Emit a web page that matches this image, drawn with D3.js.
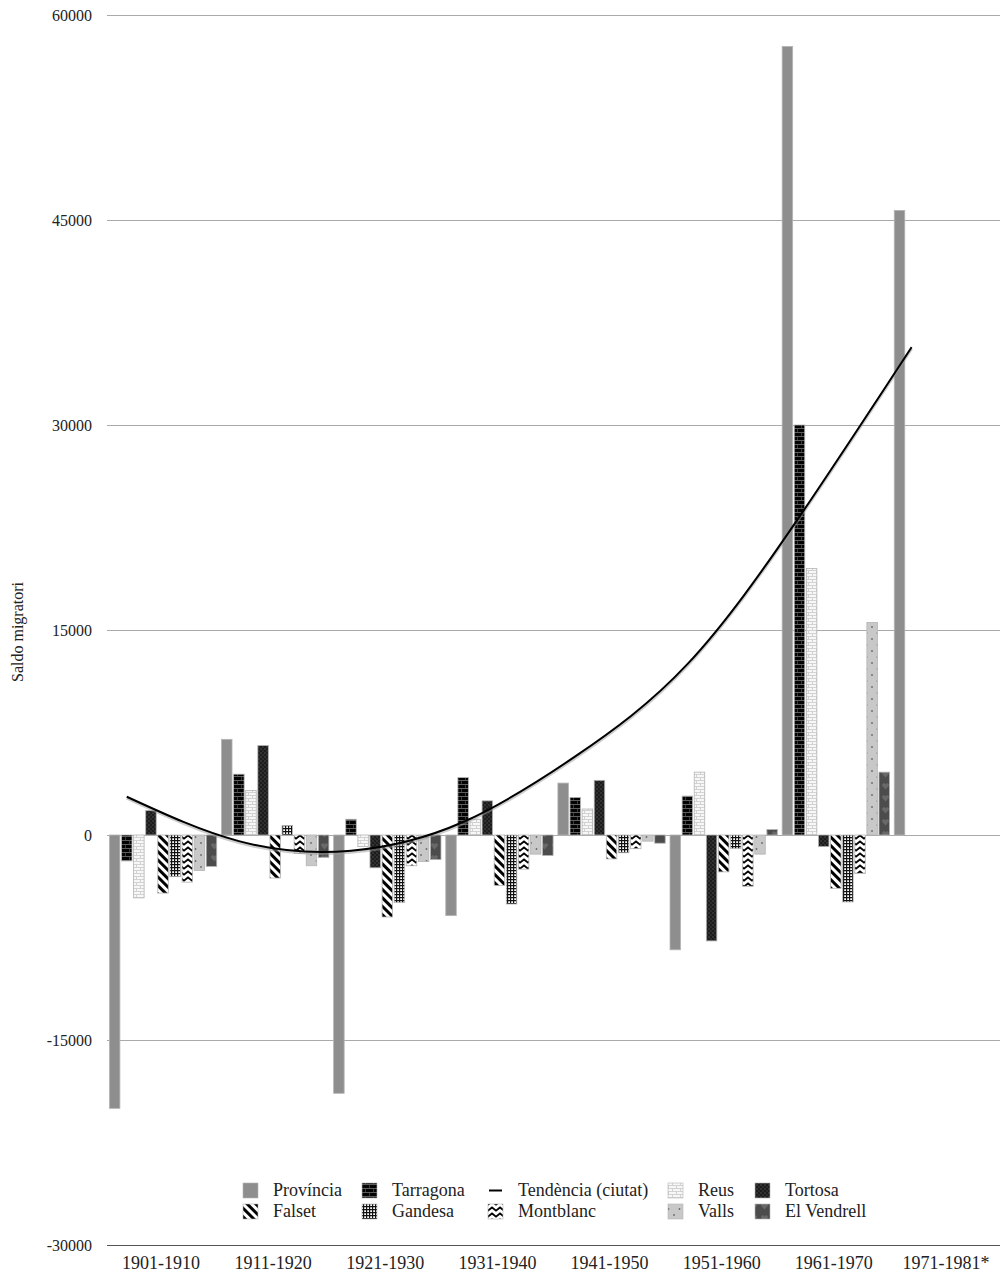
<!DOCTYPE html>
<html>
<head>
<meta charset="utf-8">
<script src="https://cdn.jsdelivr.net/npm/d3@7"></script>
<style>
  html, body { margin: 0; padding: 0; background: #fff; }
  svg { display: block; }
  text { font-family: "Liberation Serif", "Times New Roman", serif; fill: #222; }
</style>
</head>
<body>
<svg id="chart" width="1000" height="1274"></svg>
<script>
// ---------- DATA ----------
const categories = ["1901-1910","1911-1920","1921-1930","1931-1940","1941-1950","1951-1960","1961-1970","1971-1981*"];
const seriesNames = ["Província","Tarragona","Reus","Tortosa","Falset","Gandesa","Montblanc","Valls","El Vendrell"];
const provincia  = [-20000, 7000, -18900, -5900, 3800, -8400, 57700, 45700];
const tarragona  = [-1900, 4450, 1150, 4200, 2750, 2850, 30000, null];
const reus       = [-4600, 3250, -850, 1150, 1900, 4600, 19500, null];
const tortosa    = [1800, 6550, -2400, 2500, 4000, -7750, -850, null];
const falset     = [-4250, -3150, -6000, -3700, -1750, -2700, -3900, null];
const gandesa    = [-3050, 700, -4950, -5050, -1300, -1000, -4900, null];
const montblanc  = [-3450, -1350, -2250, -2500, -1000, -3750, -2800, null];
const valls      = [-2600, -2250, -1950, -1400, -450, -1400, 15550, null];
const vendrell   = [-2300, -1650, -1800, -1500, -600, 400, 4600, null];
const trendCiutat = [2800, -450, -1150, 950, 5750, 12500, 23300, 35700];
const yTicks = [-30000, -15000, 0, 15000, 30000, 45000, 60000];
const yTitle = "Saldo migratori";
const trendLabel = "Tendència (ciutat)";

const seriesValues = [provincia, tarragona, reus, tortosa, falset, gandesa, montblanc, valls, vendrell];

// ---------- SETUP ----------
const svg = d3.select("#chart");
const defs = svg.append("defs");

function pat(id, w, h, extra) {
  const p = defs.append("pattern").attr("id", id).attr("patternUnits", "userSpaceOnUse")
    .attr("width", w).attr("height", h);
  if (extra) p.attr("patternTransform", extra);
  return p;
}
// Tarragona: black brick
let p = pat("p-tarragona", 8, 8);
p.append("rect").attr("width", 8).attr("height", 8).attr("fill", "#030303");
p.append("path").attr("d", "M0,0.5H8M0,4.5H8").attr("stroke", "#5e5e5e").attr("stroke-width", 1).attr("fill", "none");
p.append("path").attr("d", "M1.5,1V4M5.5,5V8").attr("stroke", "#3a3a3a").attr("stroke-width", 1).attr("fill", "none");
// Reus: light brick
p = pat("p-reus", 8, 6);
p.append("rect").attr("width", 8).attr("height", 6).attr("fill", "#f7f7f7");
p.append("path").attr("d", "M0,0.5H8M0,3.5H8M0.5,0V3M4.5,3V6").attr("stroke", "#d2d2d2").attr("stroke-width", 1).attr("fill", "none");
// Tortosa: dark dotted
p = pat("p-tortosa", 4, 4);
p.append("rect").attr("width", 4).attr("height", 4).attr("fill", "#1c1c1c");
p.append("circle").attr("cx", 1).attr("cy", 1).attr("r", 0.7).attr("fill", "#5a5a5a");
p.append("circle").attr("cx", 3).attr("cy", 3).attr("r", 0.7).attr("fill", "#4a4a4a");
// Falset: diagonal stripes
p = pat("p-falset", 6, 6, "rotate(-45)");
p.append("rect").attr("width", 6).attr("height", 6).attr("fill", "#fff");
p.append("rect").attr("width", 3).attr("height", 6).attr("fill", "#000");
// Gandesa: fine grid
p = pat("p-gandesa", 3, 3);
p.append("rect").attr("width", 3).attr("height", 3).attr("fill", "#fff");
p.append("path").attr("d", "M0,0.6H3M0.6,0V3").attr("stroke", "#111").attr("stroke-width", 1.2);
// Montblanc: chevrons
p = pat("p-montblanc", 8, 6);
p.append("rect").attr("width", 8).attr("height", 6).attr("fill", "#fff");
p.append("path").attr("d", "M-1,5.5L4,1.5L9,5.5").attr("stroke", "#000").attr("stroke-width", 1.8).attr("fill", "none");
// Valls: light gray with dots
p = pat("p-valls", 11, 12);
p.append("rect").attr("width", 11).attr("height", 12).attr("fill", "#c8c8c8");
p.append("circle").attr("cx", 3).attr("cy", 3).attr("r", 0.9).attr("fill", "#6a6a6a");
p.append("circle").attr("cx", 8.5).attr("cy", 9).attr("r", 0.9).attr("fill", "#6a6a6a");
// El Vendrell: dark gray hearts
p = pat("p-vendrell", 11, 12);
p.append("rect").attr("width", 11).attr("height", 12).attr("fill", "#4c4c4c");
p.append("path").attr("d", "M5.5,9.5L2.3,6A1.7,1.7 0 0 1 5.5,4.2A1.7,1.7 0 0 1 8.7,6Z").attr("fill", "#686868");

const fills = {
  "Província": "#8e8e8e",
  "Tarragona": "url(#p-tarragona)",
  "Reus": "url(#p-reus)",
  "Tortosa": "url(#p-tortosa)",
  "Falset": "url(#p-falset)",
  "Gandesa": "url(#p-gandesa)",
  "Montblanc": "url(#p-montblanc)",
  "Valls": "url(#p-valls)",
  "El Vendrell": "url(#p-vendrell)"
};

// ---------- SCALES ----------
const plotLeft = 107, plotRight = 1004;
const y = d3.scaleLinear().domain([-30000, 60000]).range([1245, 15]);
const x = d3.scaleBand().domain(categories).range([plotLeft, plotRight]).paddingInner(0).paddingOuter(0);
const xs = d3.scaleBand().domain(seriesNames).range([0, x.bandwidth()]).paddingInner(0.132).paddingOuter(0.198);

// ---------- GRID / Y AXIS ----------
const yAxis = svg.append("g").attr("transform", `translate(${plotLeft},0)`)
  .call(d3.axisLeft(y).tickValues(yTicks).tickSize(-(1000 - plotLeft)).tickPadding(15).tickFormat(d => String(d)));
yAxis.select(".domain").remove();
yAxis.selectAll(".tick line").attr("stroke", d => d === -30000 ? "#555" : "#aaa").attr("stroke-width", 1);
yAxis.selectAll(".tick text").attr("font-size", 16).attr("font-family", "'Liberation Serif', serif").attr("fill", "#222");

svg.append("text").attr("transform", "translate(23,632) rotate(-90)")
  .attr("text-anchor", "middle").attr("font-size", 16).text(yTitle);

// ---------- BARS ----------
const barData = [];
seriesNames.forEach((s, si) => {
  categories.forEach((c, ci) => {
    const v = seriesValues[si][ci];
    if (v !== null && v !== undefined) barData.push({ s, c, v });
  });
});
svg.append("g").selectAll("rect").data(barData).join("rect")
  .attr("x", d => x(d.c) + xs(d.s))
  .attr("width", xs.bandwidth())
  .attr("y", d => y(Math.max(0, d.v)))
  .attr("height", d => Math.abs(y(d.v) - y(0)))
  .attr("fill", d => fills[d.s])
  .attr("stroke", "#b4b4b4").attr("stroke-width", 0.8);

// ---------- TREND LINE ----------
const trendX = (d, i) => x(categories[i]) + xs("Tarragona") + xs.bandwidth() / 2;
const line = d3.line().x(trendX).y(d => y(d)).curve(d3.curveNatural);
svg.append("path").datum(trendCiutat).attr("d", line)
  .attr("transform", "translate(0,1.5)")
  .attr("fill", "none").attr("stroke", "#999").attr("stroke-opacity", 0.5).attr("stroke-width", 3);
svg.append("path").datum(trendCiutat).attr("d", line)
  .attr("fill", "none").attr("stroke", "#000").attr("stroke-width", 2);

// ---------- X LABELS ----------
svg.append("g").selectAll("text").data(categories).join("text")
  .attr("x", d => x(d) + x.bandwidth() / 2 - 2)
  .attr("y", 1269)
  .attr("text-anchor", "middle").attr("font-size", 18).text(d => d);

// ---------- LEGEND ----------
const legendItems = [
  { name: "Província", col: 0, row: 0 },
  { name: "Tarragona", col: 1, row: 0 },
  { name: trendLabel, col: 2, row: 0, line: true },
  { name: "Reus", col: 3, row: 0 },
  { name: "Tortosa", col: 4, row: 0 },
  { name: "Falset", col: 0, row: 1 },
  { name: "Gandesa", col: 1, row: 1 },
  { name: "Montblanc", col: 2, row: 1 },
  { name: "Valls", col: 3, row: 1 },
  { name: "El Vendrell", col: 4, row: 1 }
];
const colX = [243, 362, 488, 668, 755];
const rowY = [1183, 1204];
const lg = svg.append("g");
legendItems.forEach(it => {
  const gx = colX[it.col], gy = rowY[it.row];
  if (it.line) {
    lg.append("line").attr("x1", gx + 1).attr("x2", gx + 14).attr("y1", gy + 7.5).attr("y2", gy + 7.5)
      .attr("stroke", "#000").attr("stroke-width", 2);
  } else {
    lg.append("rect").attr("x", gx).attr("y", gy).attr("width", 15).attr("height", 15)
      .attr("fill", fills[it.name]).attr("stroke", "#b4b4b4").attr("stroke-width", 0.6);
  }
  lg.append("text").attr("x", gx + 30).attr("y", gy + 13).attr("font-size", 18).text(it.name);
});
</script>
</body>
</html>
